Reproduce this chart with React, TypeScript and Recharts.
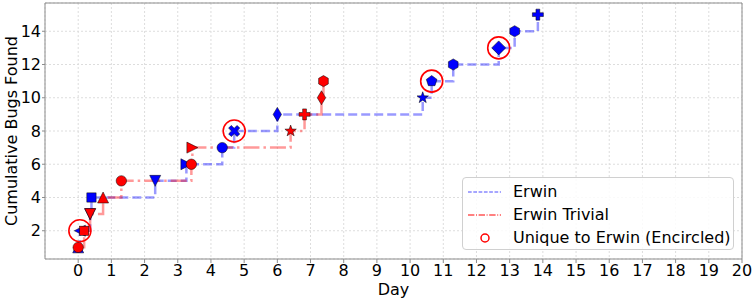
import React from 'react';
import {
  ComposedChart, Line, Scatter, XAxis, YAxis, CartesianGrid, ReferenceArea,
} from 'recharts';

// values
const erwinDays = [0, 0.05, 0.36, 0.4, 2.32, 3.26, 4.34, 4.7, 6.0, 10.38, 10.65, 11.3, 12.67, 13.15, 13.85];
const erwinBugs = [1, 2, 3, 4, 5, 6, 7, 8, 9, 10, 11, 12, 13, 14, 15];
const erwinMarkers = ['^', '<', 'v', 's', 'v', '>', 'o', 'X', 'd', '*', 'p', 'h', 'D', 'h', 'P'];

const trivialDays = [0, 0.18, 0.36, 0.75, 1.3, 3.41, 3.44, 6.4, 6.82, 7.33, 7.39];
const trivialBugs = [1, 2, 3, 4, 5, 6, 7, 8, 9, 10, 11];
const trivialMarkers = ['o', 's', 'v', '^', 'o', 'o', '>', '*', 'P', 'd', 'h'];

const uniqueDays = [0.05, 4.7, 10.65, 12.67];
const uniqueBugs = [2, 8, 11, 13];

const dayTicks = [0, 1, 2, 3, 4, 5, 6, 7, 8, 9, 10, 11, 12, 13, 14, 15, 16, 17, 18, 19, 20];
const bugTicks = [2, 4, 6, 8, 10, 12, 14];

const FONT = '"DejaVu Sans", sans-serif';
const BLUE = '#0000ff';
const RED = '#ff0000';
const SPINE = '#8c8c8c';

const erwinData = erwinDays.map((x, i) => ({ x, y: erwinBugs[i], m: erwinMarkers[i] }));
const trivialData = trivialDays.map((x, i) => ({ x, y: trivialBugs[i], m: trivialMarkers[i] }));
const uniqueData = uniqueDays.map((x, i) => ({ x, y: uniqueBugs[i] }));

const poly = (pts: number[][], cx: number, cy: number) =>
  pts.map(([a, b]) => `${(cx + a).toFixed(2)},${(cy + b).toFixed(2)}`).join(' ');

const regular = (n: number, r: number, start: number) => {
  const out: number[][] = [];
  for (let k = 0; k < n; k++) {
    const a = start + (k * 2 * Math.PI) / n;
    out.push([r * Math.cos(a), r * Math.sin(a)]);
  }
  return out;
};

const starPts = () => {
  const out: number[][] = [];
  for (let k = 0; k < 10; k++) {
    const r = k % 2 === 0 ? 6 : 2.4;
    const a = -Math.PI / 2 + (k * Math.PI) / 5;
    out.push([r * Math.cos(a), r * Math.sin(a)]);
  }
  return out;
};

const plusPts = (s: number, w: number) => [
  [-w, -s], [w, -s], [w, -w], [s, -w], [s, w], [w, w], [w, s], [-w, s], [-w, w], [-s, w], [-s, -w], [-w, -w],
];

const rotate = (pts: number[][], ang: number) =>
  pts.map(([a, b]) => [a * Math.cos(ang) - b * Math.sin(ang), a * Math.sin(ang) + b * Math.cos(ang)]);

const Marker = (color: string) => (props: any) => {
  const { cx, cy, payload } = props;
  if (cx == null || cy == null) return <g />;
  const common = { fill: color, stroke: '#000', strokeWidth: 0.5 };
  const s = 5.5;
  switch (payload.m) {
    case 'o':
      return <circle cx={cx} cy={cy} r={5.2} {...common} />;
    case 's':
      return <rect x={cx - 4.6} y={cy - 4.6} width={9.2} height={9.2} {...common} />;
    case '^':
      return <polygon points={poly([[0, -s], [-s, s], [s, s]], cx, cy)} {...common} />;
    case 'v':
      return <polygon points={poly([[0, s], [-s, -s], [s, -s]], cx, cy)} {...common} />;
    case '<':
      return <polygon points={poly([[-s, 0], [s, -s], [s, s]], cx, cy)} {...common} />;
    case '>':
      return <polygon points={poly([[s, 0], [-s, -s], [-s, s]], cx, cy)} {...common} />;
    case 'D':
      return <polygon points={poly([[0, -7], [7, 0], [0, 7], [-7, 0]], cx, cy)} {...common} />;
    case 'd':
      return <polygon points={poly([[0, -7], [4.2, 0], [0, 7], [-4.2, 0]], cx, cy)} {...common} />;
    case 'p':
      return <polygon points={poly(regular(5, 5.6, -Math.PI / 2), cx, cy)} {...common} />;
    case 'h':
      return <polygon points={poly(regular(6, 5.6, -Math.PI / 2), cx, cy)} {...common} />;
    case '*':
      return <polygon points={poly(starPts(), cx, cy)} {...common} />;
    case 'P':
      return <polygon points={poly(plusPts(5.5, 1.9), cx, cy)} {...common} />;
    case 'X':
      return <polygon points={poly(rotate(plusPts(6, 1.9), Math.PI / 4), cx, cy)} {...common} />;
    default:
      return <circle cx={cx} cy={cy} r={5} {...common} />;
  }
};

const Ring = (props: any) => {
  const { cx, cy } = props;
  if (cx == null || cy == null) return <g />;
  return <circle cx={cx} cy={cy} r={11} fill="none" stroke={RED} strokeWidth={1.6} />;
};

const YLabel = (props: any) => {
  const vb = props.viewBox || { x: 0, y: 0, width: 0, height: 0 };
  const x = 11;
  const y = vb.y + vb.height / 2;
  return (
    <text x={x} y={y} transform={`rotate(-90 ${x} ${y})`} textAnchor="middle" dominantBaseline="central"
      fontFamily={FONT} fontSize={16} fill="#000">
      Cumulative Bugs Found
    </text>
  );
};

const LegendBox = () => (
  <div
    style={{
      position: 'absolute', left: 462, top: 177, width: 272, height: 73,
      border: '1px solid #d0d0d0', borderRadius: 4, background: 'rgba(255,255,255,0.85)',
      fontFamily: FONT, fontSize: 16, color: '#000', boxSizing: 'border-box',
    }}
  >
    {[
      { label: 'Erwin', kind: 'dash' },
      { label: 'Erwin Trivial', kind: 'dashdot' },
      { label: 'Unique to Erwin (Encircled)', kind: 'ring' },
    ].map((e, i) => (
      <div key={e.label} style={{ position: 'absolute', left: 0, top: 2 + i * 23, height: 23, display: 'flex', alignItems: 'center' }}>
        <svg width={46} height={23} style={{ display: 'block' }}>
          {e.kind === 'dash' && <line x1={5} x2={38} y1={12} y2={12} stroke={BLUE} strokeOpacity={0.7} strokeWidth={1} strokeDasharray="3.7 1.6" />}
          {e.kind === 'dashdot' && <line x1={5} x2={38} y1={12} y2={12} stroke={RED} strokeWidth={1} strokeDasharray="6.4 1.6 1 1.6" />}
          {e.kind === 'ring' && <circle cx={22} cy={12} r={4} fill="none" stroke={RED} strokeWidth={1.5} />}
        </svg>
        <span style={{ marginLeft: 4, whiteSpace: 'nowrap' }}>{e.label}</span>
      </div>
    ))}
  </div>
);

export default function App() {
  return (
    <div style={{ position: 'relative', width: 756, height: 300, background: '#fff' }}>
      <style>{`body{margin:0;}`}</style>
      <ComposedChart width={756} height={300} margin={{ top: 3, right: 14, bottom: 0, left: 0 }}>
        <CartesianGrid stroke="#dddddd" strokeDasharray="2 2" />
        <XAxis
          dataKey="x" type="number" domain={[-1, 20]} ticks={dayTicks} allowDataOverflow
          height={41} tickSize={4} tickMargin={2} interval={0}
          axisLine={false} tickLine={{ stroke: SPINE }}
          tick={{ fill: '#000', fontSize: 16, fontFamily: FONT }}
          label={{ value: 'Day', position: 'insideBottom', offset: 5, fill: '#000', fontSize: 16, fontFamily: FONT }}
        />
        <YAxis
          dataKey="y" type="number" domain={[0.3, 15.7]} ticks={bugTicks} allowDataOverflow
          width={45} tickSize={3} tickMargin={1} axisLine={false} tickLine={{ stroke: SPINE }}
          tick={{ fill: '#000', fontSize: 16, fontFamily: FONT }}
          label={{ content: YLabel }}
        />
        <ReferenceArea x1={-1} x2={20} y1={0.3} y2={15.7} fill="none" stroke={SPINE} strokeWidth={1} />
        <Line data={erwinData} dataKey="y" type="stepAfter" stroke={BLUE} strokeOpacity={0.4}
          strokeWidth={2.5} strokeDasharray="9 4" dot={false} activeDot={false} isAnimationActive={false} />
        <Scatter data={erwinData} dataKey="y" shape={Marker(BLUE)} isAnimationActive={false} />
        <Line data={trivialData} dataKey="y" type="stepAfter" stroke={RED} strokeOpacity={0.4}
          strokeWidth={2.5} strokeDasharray="16 4 2.5 4" dot={false} activeDot={false} isAnimationActive={false} />
        <Scatter data={trivialData} dataKey="y" shape={Marker(RED)} isAnimationActive={false} />
        <Scatter data={uniqueData} dataKey="y" shape={Ring} isAnimationActive={false} />
      </ComposedChart>
      <LegendBox />
    </div>
  );
}
